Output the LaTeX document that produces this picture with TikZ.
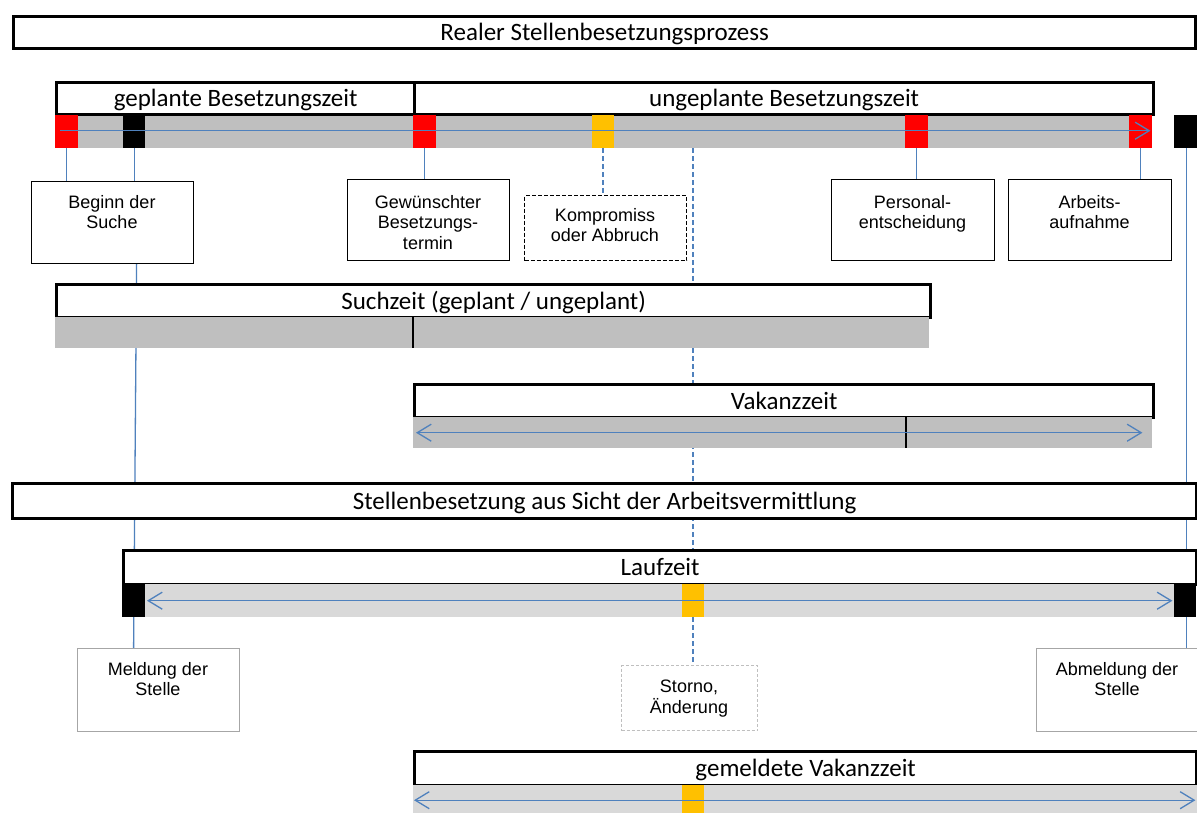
\documentclass[tikz,border=0pt]{standalone}
\usepackage{fontspec}
\setmainfont{Carlito}
\newfontfamily\arialfont{Liberation Sans}
\usetikzlibrary{arrows.meta}
\pgfdeclarelayer{background}
\pgfdeclarelayer{canvas}
\pgfsetlayers{canvas,background,main}
\definecolor{grayA}{HTML}{BFBFBF}
\definecolor{grayB}{HTML}{D9D9D9}
\definecolor{lineblue}{HTML}{4F81BD}
\definecolor{marred}{HTML}{FF0000}
\definecolor{maryellow}{HTML}{FFC000}
\definecolor{boxgray}{HTML}{A6A6A6}
\begin{document}
\begin{tikzpicture}[x=1pt,y=-1pt,
  bigbox/.style={draw=black,line width=3.3pt,fill=white,inner sep=0pt,anchor=north west,text height=16pt,text depth=0pt,font=\fontsize{25}{30}\selectfont},
  barbox/.style={fill=#1,draw=none,inner sep=0pt,anchor=north west},
  smallbox/.style={draw=black,line width=1.2pt,fill=white,inner sep=0pt,anchor=north west},
  greybox/.style={draw=boxgray,line width=1.2pt,fill=white,inner sep=0pt,anchor=north west},
  dashbox/.style={draw=black,line width=1.2pt,dash pattern=on 4pt off 2pt,fill=white,inner sep=0pt,anchor=north west},
  lightdashbox/.style={draw=grayA,line width=1pt,dash pattern=on 3pt off 2pt,fill=white,inner sep=0pt,anchor=north west},
  lbl/.style={font=\arialfont\fontsize{18}{20.5}\selectfont,align=center,anchor=north,inner sep=0pt},
  conn/.style={draw=lineblue,line width=1.3pt},
  dconn/.style={draw=lineblue,line width=1.6pt,dash pattern=on 5pt off 3pt},
  divider/.style={draw=black,line width=2.5pt},
  spanarrow/.style={draw=lineblue,line width=1.3pt},
  tip/.tip={Straight Barb[length=14pt,width=17pt,line width=1.3pt]}
]
\useasboundingbox (0,0) rectangle (1197,813);
\begin{pgfonlayer}{canvas}
\fill[white] (0,0) rectangle (1197,813);
\end{pgfonlayer}

% title
\node[bigbox,minimum width=1182pt,minimum height=32pt] (title) at (12,15) {Realer Stellenbesetzungsprozess};

% top bar
\node[barbox=grayA,minimum width=1097pt,minimum height=35pt] (bar1) at (55,113) {};
\node[bigbox,minimum width=358pt,minimum height=32pt] (gepl) at (55,81) {geplante Besetzungszeit};
\node[bigbox,minimum width=739pt,minimum height=32pt] (ungepl) at (413,81) {ungeplante Besetzungszeit};
\node[barbox=marred,minimum width=23pt,minimum height=33pt] (r1) at (55,115) {};
\node[barbox=black,minimum width=22pt,minimum height=33pt] (k1) at (123,115) {};
\node[barbox=marred,minimum width=23pt,minimum height=33pt] (r2) at (413,115) {};
\node[barbox=maryellow,minimum width=22pt,minimum height=33pt] (y1) at (592,115) {};
\node[barbox=marred,minimum width=23pt,minimum height=33pt] (r3) at (905,115) {};
\node[barbox=marred,minimum width=23pt,minimum height=33pt] (r4) at (1129,115) {};
\node[barbox=black,minimum width=23pt,minimum height=33pt] (k2) at (1174,115) {};
\draw[spanarrow,-tip] ([xshift=5pt]r1.west |- bar1.center) -- ([xshift=-2pt]r4.east |- bar1.center);

% event boxes top
\node[smallbox,minimum width=162pt,minimum height=82pt] (beginn) at (31,181) {};
\node[lbl] (beginnT) at (112,195) {Beginn der\\Suche};
\node[smallbox,minimum width=162pt,minimum height=81pt] (gew) at (347,179) {};
\node[lbl] (gewT) at (428,195) {Gewünschter\\Besetzungs-\\termin};
\node[dashbox,minimum width=162pt,minimum height=65pt] (komp) at (524,195) {};
\node[lbl] (kompT) at (605,208) {Kompromiss\\oder Abbruch};
\node[smallbox,minimum width=163pt,minimum height=81pt] (pers) at (831,179) {};
\node[lbl] (persT) at (912.5,195) {Personal-\\entscheidung};
\node[smallbox,minimum width=163pt,minimum height=81pt] (arb) at (1008,179) {};
\node[lbl] (arbT) at (1089.5,195) {Arbeits-\\aufnahme};

% Suchzeit
\node[bigbox,minimum width=874pt,minimum height=33pt] (such) at (55,283) {Suchzeit (geplant / ungeplant)};
\node[barbox=grayA,minimum width=874pt,minimum height=31pt] (suchbar) at (55,317) {};
\draw[divider] (413,317) -- (413,348);

% Vakanzzeit
\node[bigbox,minimum width=739pt,minimum height=33pt] (vak) at (413,383) {Vakanzzeit};
\node[barbox=grayA,minimum width=739pt,minimum height=31pt] (vakbar) at (413,417) {};
\draw[divider] (906,417) -- (906,448);
\draw[spanarrow,tip-tip] ([xshift=3pt]vakbar.west) -- ([xshift=-10pt]vakbar.east);

% Stellenbesetzung
\node[bigbox,minimum width=1184pt,minimum height=35pt] (stell) at (11,482) {Stellenbesetzung aus Sicht der Arbeitsvermittlung};

% Laufzeit
\node[bigbox,minimum width=1073pt,minimum height=34pt] (lauf) at (122,549) {Laufzeit};
\node[barbox=grayB,minimum width=1029pt,minimum height=33pt] (laufbar) at (145,584) {};
\node[barbox=black,minimum width=23pt,minimum height=33pt] (lk1) at (122,584) {};
\node[barbox=black,minimum width=22pt,minimum height=33pt] (lk2) at (1174,584) {};
\node[barbox=maryellow,minimum width=22pt,minimum height=33pt] (ly) at (682,584) {};
\draw[spanarrow,tip-tip] ([xshift=2pt]laufbar.west) -- ([xshift=-2pt]laufbar.east);

% event boxes bottom
\node[greybox,minimum width=162pt,minimum height=83pt] (meld) at (77,648) {};
\node[lbl] (meldT) at (158,662) {Meldung der\\Stelle};
\node[lightdashbox,minimum width=136pt,minimum height=65pt] (storno) at (621,665) {};
\node[lbl] (stornoT) at (689,680) {Storno,\\Änderung};
\node[greybox,minimum width=162pt,minimum height=83pt] (abm) at (1036,648) {};
\node[lbl] (abmT) at (1117,662) {Abmeldung der\\Stelle};

% gemeldete Vakanzzeit
\node[bigbox,minimum width=782pt,minimum height=34pt] (gem) at (413,750) {gemeldete Vakanzzeit};
\node[barbox=grayB,minimum width=784pt,minimum height=30pt] (gembar) at (413,785) {};
\node[barbox=maryellow,minimum width=22pt,minimum height=30pt] (gy) at (682,785) {};
\draw[spanarrow,tip-tip] ([xshift=1pt]gembar.west) -- ([xshift=-2pt]gembar.east);

% connectors (behind)
\begin{pgfonlayer}{background}
\draw[conn] (r1.south) -- (r1.south |- beginn.north);
\draw[conn] (k1.south) -- (k1.south |- beginn.north);
\draw[conn] (r2.south) -- (r2.south |- gew.north);
\draw[dconn] (y1.south) -- (y1.south |- komp.north);
\draw[conn] (r3.south) -- (r3.south |- pers.north);
\draw[conn] (r4.south) -- (r4.south |- arb.north);
\draw[dconn] (ly.center |- bar1.south) -- (ly.center |- lauf.north);
\draw[dconn] (ly.south) -- (ly.south |- storno.north);
\draw[conn] ([xshift=24pt]beginn.south) -- ([xshift=-25pt]meld.north);
\draw[conn] ([xshift=1pt]k2.south) -- ([xshift=1pt]k2.south |- abm.north);
\end{pgfonlayer}
\end{tikzpicture}
\end{document}
